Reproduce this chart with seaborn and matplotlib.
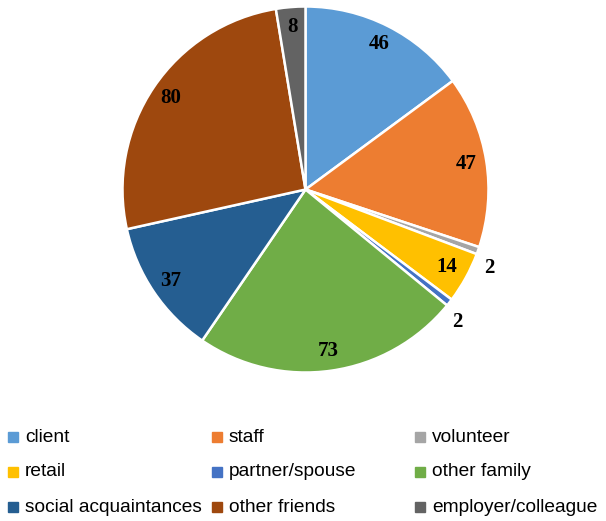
import matplotlib
matplotlib.use("Agg")
import matplotlib.pyplot as plt
import numpy as np
import seaborn as sns

sns.set_theme(style="white")
plt.rcParams["font.family"] = ["Liberation Sans", "DejaVu Sans"]

# data
categories = ["client", "staff", "volunteer", "retail", "partner/spouse",
              "other family", "social acquaintances", "other friends",
              "employer/colleague"]
counts = [46, 47, 2, 14, 2, 73, 37, 80, 8]
colors = ["#5B9BD5", "#ED7D31", "#A5A5A5", "#FFC000", "#4472C4",
          "#70AD47", "#255E91", "#9E480E", "#636363"]

# label placement (Excel "best fit"): radius fraction and angle nudge in degrees
label_r = [0.89, 0.89, 1.09, 0.88, 1.10, 0.89, 0.89, 0.89, 0.89]
label_da = [0, 0, -3.7, 0, -2.9, 0, 0, 0, 0]

W, H = 606, 521
fig = plt.figure(figsize=(W / 100, H / 100), dpi=100)

cx, cy, r = 305.5, 189.5, 183.0
ax = fig.add_axes([(cx - r) / W, (H - cy - r) / H, 2 * r / W, 2 * r / H])
wedges, _ = ax.pie(counts, colors=colors, startangle=90, counterclock=False,
                   radius=1, wedgeprops=dict(edgecolor="white", linewidth=1.8))
ax.set_xlim(-1, 1)
ax.set_ylim(-1, 1)
ax.set_aspect("auto")
ax.axis("off")

for w, v, d, da in zip(wedges, counts, label_r, label_da):
    ang = np.deg2rad((w.theta1 + w.theta2) / 2 + da)
    ax.text(d * np.cos(ang), d * np.sin(ang), str(v), ha="center", va="center",
            fontsize=15, fontweight="bold", family=["Liberation Serif"],
            color="black", clip_on=False)

# legend, 3 equal-width columns like Excel
col_x = [8, 212, 415]
row_y = [437, 472, 507]
for i, (name, c) in enumerate(zip(categories, colors)):
    x = col_x[i % 3]
    y = row_y[i // 3]
    fig.patches.append(plt.Rectangle((x / W, (H - y - 5) / H), 10 / W, 10 / H,
                                     transform=fig.transFigure, color=c,
                                     figure=fig))
    fig.text((x + 17) / W, (H - y) / H, name, ha="left", va="center",
             fontsize=13.8, color="black")

fig.savefig("out.png", dpi=100)
